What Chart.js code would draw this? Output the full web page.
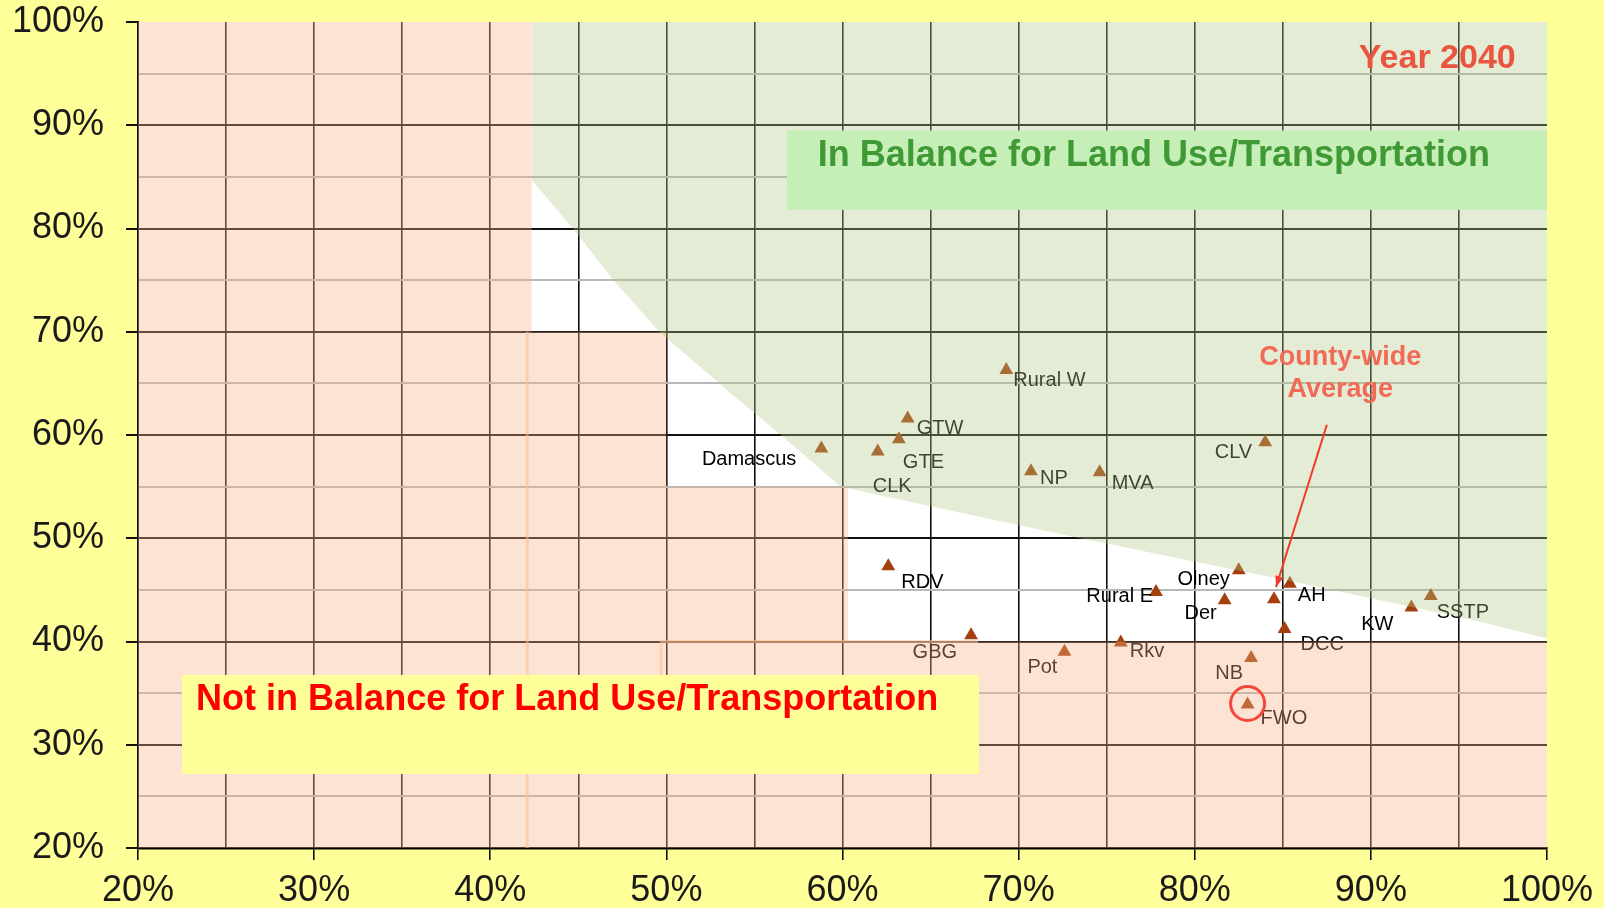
<!DOCTYPE html>
<html>
<head>
<meta charset="utf-8">
<script src="https://cdn.jsdelivr.net/npm/chart.js@4.4.1/dist/chart.umd.min.js"></script>
<style>
  html, body { margin: 0; padding: 0; background: #ffff99; }
  #wrap { width: 1604px; height: 908px; position: relative; }
</style>
</head>
<body>
<div id="wrap"><canvas id="balanceChart"></canvas></div>
<script>
// policy areas (x = transit accessibility %, y = arterial mobility %)
const areaNames = ['Damascus', 'CLK', 'GTE', 'GTW', 'Rural W', 'NP', 'MVA', 'CLV', 'RDV', 'Rural E', 'Olney',
                   'Der', '', 'AH', 'DCC', 'KW', 'SSTP', 'GBG', 'Pot', 'Rkv', 'NB', 'FWO'];
const areaX = [58.8, 62.0, 63.2, 63.7, 69.3, 70.7, 74.6, 84.0, 62.6, 77.8, 82.5,
               81.7, 84.5, 85.4, 85.1, 92.3, 93.4, 67.3, 72.6, 75.8, 83.2, 83.0];
const areaY = [58.7, 58.4, 59.6, 61.6, 66.3, 56.5, 56.4, 59.3, 47.3, 44.8, 46.9,
               44.0, 44.1, 45.6, 41.2, 43.3, 44.4, 40.6, 39.0, 39.9, 38.4, 33.9];

// where each name sits next to its marker: [align, dx, dy] in px
const labelPlace = [['right', -25, 11], ['left', -5, 35], ['left', 4, 23], ['left', 9, 10], ['left', 7, 11],
                    ['left', 9, 7], ['left', 12, 11], ['right', -13, 10], ['left', 13, 16], ['right', -3, 5],
                    ['right', -9, 9], ['right', -8, 13], null, ['left', 8, 12], ['left', 16, 15],
                    ['right', -18, 17], ['left', 6, 16], ['right', -14, 17], ['right', -7, 16], ['left', 9, 9],
                    ['right', -8, 15], ['left', 13, 14]];
const averageIndex = 12;   // county-wide average marker
const circledIndex = 21;   // FWO

// zone edges
const greenEdgeX = [42.35, 44.7, 47.0, 49.6, 53.0, 56.5, 59.9, 65, 73.5, 85, 96, 100];
const greenEdgeY = [84.7, 80, 75, 70, 65, 60, 55, 53.1, 50, 46, 42, 40.3];
const pinkEdgeX = [20, 42.35, 42.35, 50, 50, 60.3, 60.3, 100];
const pinkEdgeY = [100, 100, 70, 70, 55, 55, 40, 40];

const axisMin = 20, axisMax = 100, gridStep = 5;

const FONT = '"Liberation Sans", Arial, sans-serif';

function toPoints(xs, ys) {
    return xs.map((x, i) => ({x: x, y: ys[i]}));
}

const plotBackground = {
    id: 'plotBackground',
    beforeDraw(chart) {
        const a = chart.chartArea;
        chart.ctx.save();
        chart.ctx.fillStyle = '#ffffff';
        chart.ctx.fillRect(a.left, a.top, a.right - a.left, a.bottom - a.top);
        chart.ctx.restore();
    }
};

const pointLabels = {
    id: 'pointLabels',
    afterDatasetDraw(chart, args) {
        if (args.index !== 0) return;
        const ctx = chart.ctx;
        ctx.save();
        ctx.font = '20px ' + FONT;
        ctx.fillStyle = '#000';
        ctx.textBaseline = 'middle';
        args.meta.data.forEach((pt, i) => {
            const p = labelPlace[i];
            if (!p || !areaNames[i]) return;
            ctx.textAlign = p[0];
            ctx.fillText(areaNames[i], pt.x + p[1], pt.y + p[2]);
        });
        ctx.restore();
    }
};

const notes = {
    id: 'notes',
    beforeDatasetsDraw(chart) {
        // faint outline lines left from the original drawing
        const ctx = chart.ctx, xs = chart.scales.x, ys = chart.scales.y;
        ctx.save();
        ctx.strokeStyle = 'rgba(250,200,155,0.55)';
        ctx.lineWidth = 3;
        ctx.beginPath();
        ctx.moveTo(xs.getPixelForValue(42.1), ys.getPixelForValue(70));
        ctx.lineTo(xs.getPixelForValue(42.1), ys.getPixelForValue(20));
        ctx.moveTo(xs.getPixelForValue(49.7), ys.getPixelForValue(36.8));
        ctx.lineTo(xs.getPixelForValue(49.7), ys.getPixelForValue(40));
        ctx.lineTo(xs.getPixelForValue(67.7), ys.getPixelForValue(40));
        ctx.stroke();
        ctx.restore();
    },
    afterDraw(chart) {
        const ctx = chart.ctx, xs = chart.scales.x, ys = chart.scales.y;
        const px = v => xs.getPixelForValue(v), py = v => ys.getPixelForValue(v);
        ctx.save();

        // In balance box
        ctx.fillStyle = '#c6efb8';
        ctx.fillRect(px(56.85), py(89.5), px(100) - px(56.85), py(81.8) - py(89.5));
        ctx.font = 'bold 36px ' + FONT;
        ctx.fillStyle = '#3f9a36';
        ctx.textAlign = 'left';
        ctx.textBaseline = 'middle';
        ctx.fillText('In Balance for Land Use/Transportation', px(58.6), py(87.0));

        // Not in balance box
        ctx.fillStyle = '#ffff99';
        ctx.fillRect(px(22.5), py(36.76), px(67.76) - px(22.5), py(27.17) - py(36.76));
        ctx.fillStyle = '#ff0000';
        ctx.fillText('Not in Balance for Land Use/Transportation', px(23.3), py(34.34));

        // year
        ctx.font = 'bold 34px ' + FONT;
        ctx.fillStyle = '#ea5540';
        ctx.textAlign = 'center';
        ctx.fillText('Year 2040', px(93.77), py(96.45));

        // county-wide average callout
        ctx.font = 'bold 27px ' + FONT;
        ctx.fillStyle = '#f06a55';
        ctx.fillText('County-wide', px(88.26), py(67.5));
        ctx.fillText('Average', px(88.26), py(64.4));

        const avg = chart.getDatasetMeta(0).data[averageIndex];
        const sx = px(87.5), sy = py(61.0);
        const ex = avg.x + 2, ey = avg.y - 12;
        const ang = Math.atan2(ey - sy, ex - sx);
        ctx.strokeStyle = '#f23b2c';
        ctx.fillStyle = '#f23b2c';
        ctx.lineWidth = 2;
        ctx.beginPath();
        ctx.moveTo(sx, sy);
        ctx.lineTo(ex, ey);
        ctx.stroke();
        ctx.beginPath();
        ctx.moveTo(ex, ey);
        ctx.lineTo(ex - 12 * Math.cos(ang - 0.35), ey - 12 * Math.sin(ang - 0.35));
        ctx.lineTo(ex - 12 * Math.cos(ang + 0.35), ey - 12 * Math.sin(ang + 0.35));
        ctx.closePath();
        ctx.fill();

        // circle on FWO
        const fwo = chart.getDatasetMeta(0).data[circledIndex];
        ctx.strokeStyle = '#f5473a';
        ctx.lineWidth = 3;
        ctx.beginPath();
        ctx.arc(fwo.x, fwo.y - 1, 17, 0, Math.PI * 2);
        ctx.stroke();

        ctx.restore();
    }
};

const isMajor = v => Math.round(v) % 10 === 0;

new Chart(document.getElementById('balanceChart'), {
    type: 'scatter',
    data: {
        datasets: [{
            label: 'Policy areas',
            data: toPoints(areaX, areaY),
            pointStyle: 'triangle',
            pointRadius: 8,
            backgroundColor: '#a3400e',
            borderWidth: 0,
            order: 3
        }, {
            type: 'line',
            label: 'Not in balance',
            data: toPoints(pinkEdgeX, pinkEdgeY),
            showLine: true,
            borderColor: 'transparent',
            pointRadius: 0,
            tension: 0,
            fill: 'start',
            backgroundColor: 'rgba(250,178,133,0.36)',
            order: 2
        }, {
            type: 'line',
            label: 'In balance',
            data: toPoints(greenEdgeX, greenEdgeY),
            showLine: true,
            borderColor: 'transparent',
            pointRadius: 0,
            tension: 0,
            fill: 'end',
            backgroundColor: 'rgba(176,200,133,0.34)',
            order: 1
        }]
    },
    options: {
        responsive: true,
        maintainAspectRatio: false,
        animation: false,
        events: [],
        layout: { padding: { top: 22, right: 57, left: 0, bottom: 0 } },
        plugins: {
            legend: { display: false },
            tooltip: { enabled: false },
            title: { display: false }
        },
        scales: {
            x: {
                type: 'linear',
                min: axisMin,
                max: axisMax,
                afterFit(scale) { scale.height = 60; },
                border: { color: '#000', width: 2.5 },
                grid: {
                    color: ctx => ctx.tick && ctx.tick.value === axisMax ? 'transparent' : '#111',
                    lineWidth: 1.6,
                    tickColor: ctx => isMajor(ctx.tick.value) ? '#111' : 'transparent',
                    tickLength: 12
                },
                ticks: {
                    stepSize: gridStep,
                    autoSkip: false,
                    maxRotation: 0,
                    padding: 9,
                    color: '#1a1a1a',
                    font: { family: FONT, size: 36 },
                    callback: v => isMajor(v) ? v + '%' : ''
                }
            },
            y: {
                type: 'linear',
                min: axisMin,
                max: axisMax,
                afterFit(scale) {
                    scale.width = 138;
                    scale.paddingTop = 0;
                    scale.paddingBottom = 0;
                },
                border: { color: '#111', width: 2 },
                grid: {
                    color: ctx => {
                        if (!ctx.tick || ctx.tick.value === axisMax) return 'transparent';
                        return isMajor(ctx.tick.value) ? '#111' : '#b8b8b8';
                    },
                    lineWidth: 2,
                    tickColor: ctx => isMajor(ctx.tick.value) ? '#111' : 'transparent',
                    tickLength: 12
                },
                ticks: {
                    stepSize: gridStep,
                    autoSkip: false,
                    padding: 22,
                    color: '#1a1a1a',
                    font: { family: FONT, size: 36 },
                    callback: v => isMajor(v) ? v + '%' : ''
                }
            }
        }
    },
    plugins: [plotBackground, pointLabels, notes]
});
</script>
</body>
</html>
